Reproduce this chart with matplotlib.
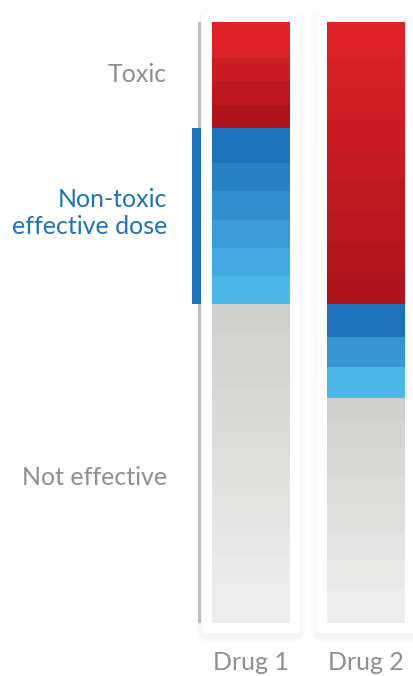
import numpy as np
import matplotlib
matplotlib.use("Agg")
import matplotlib.pyplot as plt
from matplotlib.patches import FancyBboxPatch, Rectangle
from matplotlib.colors import to_rgb

# band heights (dose scale units, top to bottom)
drugs = ["Drug 1", "Drug 2"]
toxic = [[36, 23, 24, 23],
         [36, 30, 31, 31, 30, 31, 31, 31, 31]]
effective = [[35, 28, 29, 28, 28, 28],
             [33, 30, 31]]
not_effective = [[14] * 21 + [25],
                 [22, 28, 28, 28, 28, 28, 28, 35]]
zone_labels = ["Toxic", "Non-toxic\neffective dose", "Not effective"]

W, H = 414, 676
TOP, BOTTOM = 22, 623
centers = [251, 366]
bar_w = 78
pad = 10

grey_txt = "#8f8f8f"
blue_txt = "#1e73ba"
ramps = {
    "toxic": ("#dc2128", "#ae141b"),
    "effective": ("#1e73ba", "#4bb8e8"),
    "none": ("#cfcfcd", "#ededed"),
}


def shades(n, pair):
    a, b = np.array(to_rgb(pair[0])), np.array(to_rgb(pair[1]))
    if n == 1:
        return [a]
    return [a + (b - a) * t for t in np.linspace(0, 1, n)]


plt.rcParams['font.family'] = ['Lato', 'DejaVu Sans']
fig = plt.figure(figsize=(W / 100, H / 100), dpi=100)

# background layer in pixel coordinates for cards and shadows
bg = fig.add_axes([0, 0, 1, 1])
bg.set_xlim(0, W)
bg.set_ylim(H, 0)
bg.axis("off")

for c in centers:
    x0 = c - bar_w / 2 - pad
    y0 = TOP - pad
    w = bar_w + 2 * pad
    h = BOTTOM - TOP + 2 * pad
    for k in range(10, 0, -1):
        bg.add_patch(FancyBboxPatch((x0 - k * 0.6, y0 - k * 0.6 + 4), w + 1.2 * k, h + 1.2 * k,
                                    boxstyle="round,pad=0,rounding_size=%d" % (k + 2),
                                    fc="#000000", ec="none", alpha=0.0035))
    bg.add_patch(FancyBboxPatch((x0, y0), w, h, boxstyle="round,pad=0,rounding_size=2",
                                fc="white", ec="none"))

# bar layer: y in dose units
total = sum(toxic[0]) + sum(effective[0]) + sum(not_effective[0])
ax = fig.add_axes([0, 1 - BOTTOM / H, 1, (BOTTOM - TOP) / H])
ax.set_xlim(0, W)
ax.set_ylim(total, 0)
ax.axis("off")
ax.patch.set_alpha(0)

for i, c in enumerate(centers):
    bottom = 0
    for key, segs in (("toxic", toxic[i]), ("effective", effective[i]), ("none", not_effective[i])):
        cols = shades(len(segs), ramps[key])
        for hgt, col in zip(segs, cols):
            ax.bar(c, hgt, bottom=bottom, width=bar_w, color=col, linewidth=0)
            bottom += hgt

# left guide: grey line with blue marker for Drug 1 effective zone
t_end = sum(toxic[0])
e_end = t_end + sum(effective[0])
ax.add_patch(Rectangle((198, 0), 3, total, fc="#bdbdbd", ec="none"))
ax.add_patch(Rectangle((192, t_end), 9, e_end - t_end, fc=blue_txt, ec="none"))

mids = [t_end / 2, (t_end + e_end) / 2 - 3, (e_end + total) / 2 + 14]
for lab, y, col in zip(zone_labels, mids, [grey_txt, blue_txt, grey_txt]):
    ax.text(167, y, lab, ha="right", va="center", color=col, fontsize=18,
            linespacing=1.2)

for name, c in zip(drugs, centers):
    bg.text(c, 662, name, ha="center", va="center", color=grey_txt, fontsize=18)

fig.savefig("out.png", dpi=100)
